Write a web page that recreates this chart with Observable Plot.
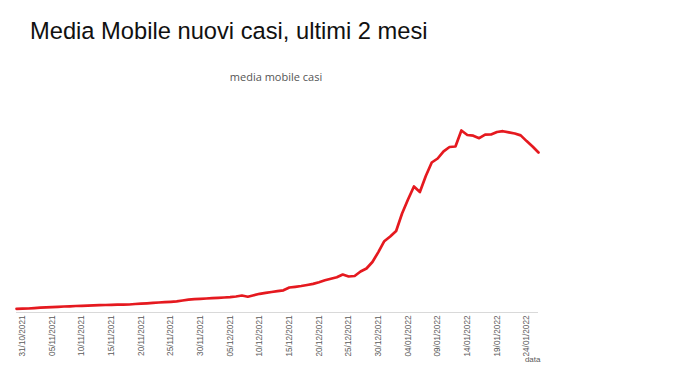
<!DOCTYPE html>
<html><head><meta charset="utf-8">
<script src="https://cdn.jsdelivr.net/npm/d3@7"></script>
<script src="https://cdn.jsdelivr.net/npm/@observablehq/plot@0.6"></script>
<style>
body{margin:0;background:#fff;width:680px;height:383px;overflow:hidden;position:relative;font-family:"Liberation Sans",Arial,sans-serif}
#title{position:absolute;left:30px;top:18px;font-size:23.7px;color:#111;white-space:nowrap}
#sub{position:absolute;left:216px;width:120px;text-align:center;top:69px;font-family:"Open Sans",sans-serif;font-size:11px;color:#555}
#chart{position:absolute;left:0;top:0}
</style></head><body>
<div id="chart"></div>
<div id="title">Media Mobile nuovi casi, ultimi 2 mesi</div>
<div id="sub">media mobile casi</div>
<script>
const startDate = "30/10/2021";
const cases = [
  3700, 3800, 4000, 4400, 4800, 5100, 5400, 5700, 6000, 6200,
  6500, 6700, 6900, 7100, 7300, 7500, 7700, 7800, 7900, 8000,
  8500, 8900, 9200, 9600, 10000, 10300, 10700, 11200, 12000, 12800,
  13300, 13700, 14000, 14300, 14700, 15000, 15300, 16000, 17000, 15800,
  17200, 18700, 19600, 20500, 21400, 22200, 25000, 25700, 26500, 27500,
  28600, 30300, 32200, 33800, 35300, 38000, 36000, 36500, 41000, 44000,
  50500, 60400, 71300, 76000, 81500, 99000, 113000, 126000, 120500, 136500,
  150000, 154000, 161200, 165500, 166000, 182000, 177500, 176800, 174300, 177800,
  178000, 180500, 181300, 180100, 179000, 177100, 171400, 166000, 160000
];
const tickLabels = [
  "31/10/2021", "05/11/2021", "10/11/2021", "15/11/2021", "20/11/2021", "25/11/2021",
  "30/11/2021", "05/12/2021", "10/12/2021", "15/12/2021", "20/12/2021", "25/12/2021",
  "30/12/2021", "04/01/2022", "09/01/2022", "14/01/2022", "19/01/2022", "24/01/2022"
];
const xLabel = "data";

const parse = d3.timeParse("%d/%m/%Y");
const fmt = d3.timeFormat("%d/%m/%Y");
const start = parse(startDate);
const data = cases.map((v, i) => ({date: d3.timeDay.offset(start, i), value: v}));
const tickDates = tickLabels.map(parse);

const chart = Plot.plot({
  width: 680,
  height: 383,
  marginLeft: 16,
  marginRight: 142,
  marginTop: 100,
  marginBottom: 71,
  style: {background: "transparent", fontFamily: "'Liberation Sans', Arial, sans-serif", fontSize: "8.2px", color: "#5a5a5a"},
  x: {type: "time", domain: [data[0].date, data[data.length - 1].date]},
  y: {domain: [0, 212000], axis: null},
  marks: [
    Plot.ruleY([0], {stroke: "#d9d9d9", strokeWidth: 1}),
    Plot.axisX({ticks: tickDates, tickFormat: fmt, tickRotate: -90, tickSize: 0, tickPadding: 3, label: null}),
    Plot.text([xLabel], {frameAnchor: "bottom-right", dy: 49, dx: 2, text: d => d, fill: "#5a5a5a", fontSize: 8}),
    Plot.lineY(data, {x: "date", y: "value", stroke: "#e5191f", strokeWidth: 2.7, strokeLinejoin: "round"})
  ]
});
document.getElementById("chart").appendChild(chart);
</script>
</body></html>
